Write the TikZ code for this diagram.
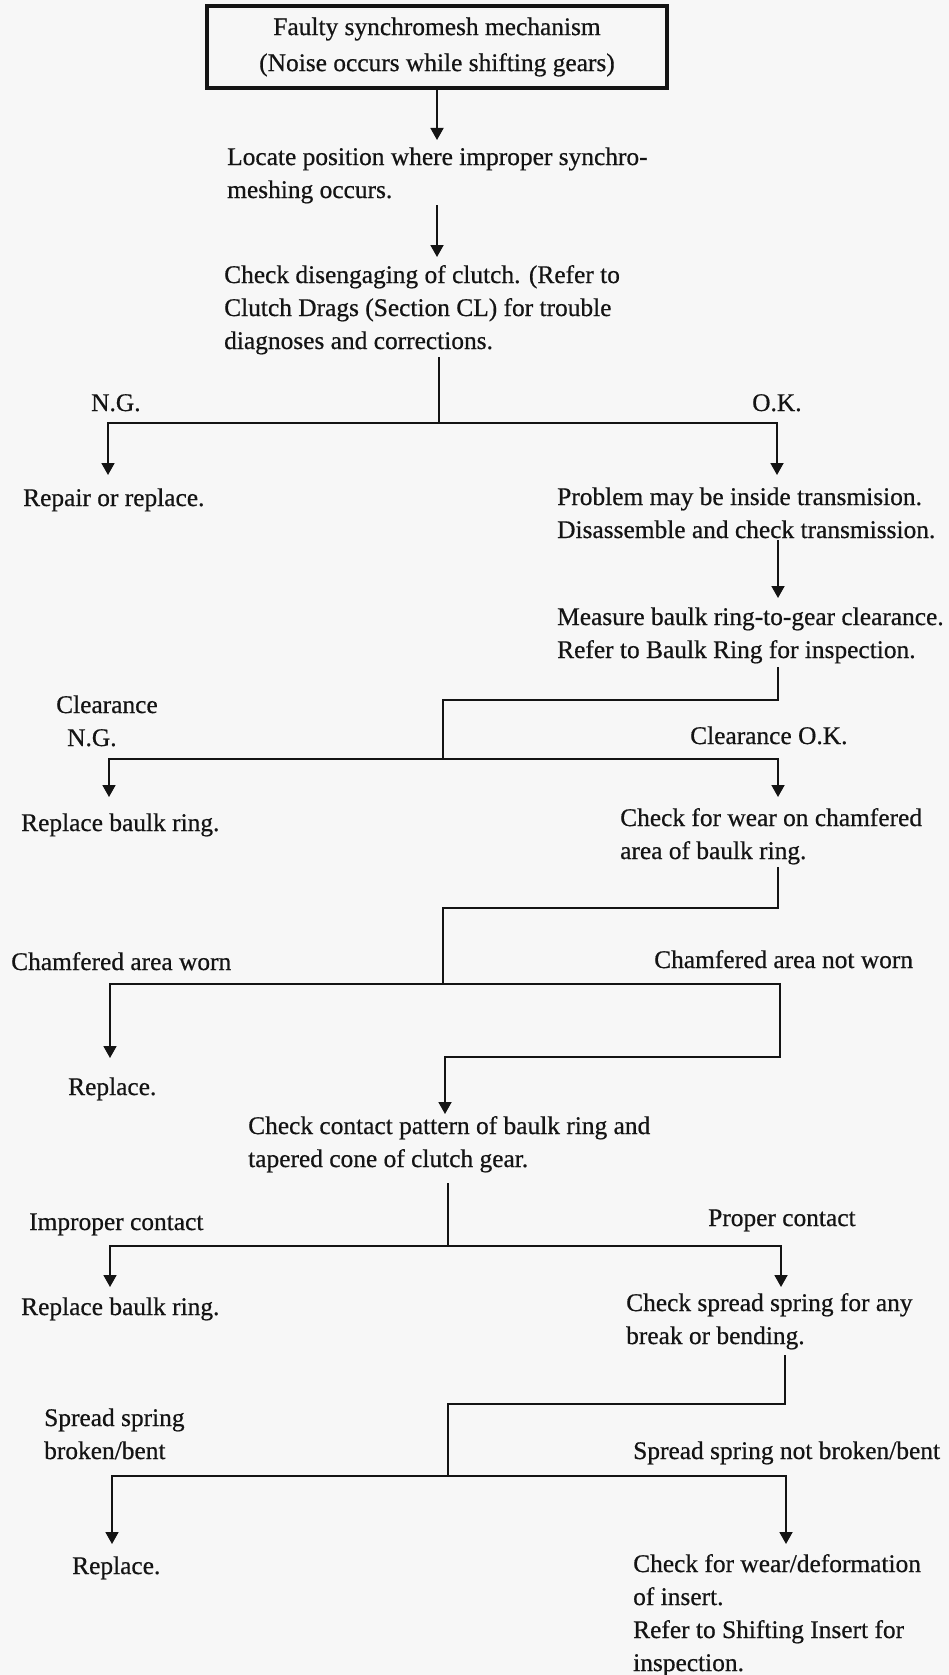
\documentclass[tikz,border=0pt]{standalone}
\usepackage{fontspec}
\setmainfont[FakeBold=0.6]{Liberation Serif}
\usetikzlibrary{arrows.meta}
\tikzset{
  txt/.style={anchor=base west, inner sep=0pt, font=\fontsize{25.4}{33}\selectfont, text=black!92},
  conn/.style={line width=1.8pt, draw=black!92},
  arr/.style={conn, -{Triangle[length=12pt,width=13pt]}},
  startbox/.style={draw=black!92, line width=3.5pt, minimum width=460pt, minimum height=82pt,
    align=center, inner sep=0pt, font=\fontsize{25.4}{33}\selectfont, text=black!92},
}
\newcommand{\lines}[1]{\begin{tabular}[t]{@{}l@{}}#1\end{tabular}}
\begin{document}
\begin{tikzpicture}[x=1pt,y=-1pt]
\fill[black!3] (0,0) rectangle (949,1675);
\useasboundingbox (0,0) rectangle (949,1675);

% nodes
\node[startbox] (start) at (437,47) {Faulty synchromesh mechanism\\[3pt](Noise occurs while shifting gears)};
\node[txt] (locate) at (227,165) {\lines{Locate position where improper synchro-\\meshing occurs.}};
\node[txt] (clutch) at (224,283) {\lines{Check disengaging of clutch. (Refer to\\Clutch Drags (Section CL) for trouble\\diagnoses and corrections.}};
\node[txt] (ng1) at (91,411) {N.G.};
\node[txt] (ok1) at (752,411) {O.K.};
\node[txt] (repair) at (23,506) {Repair or replace.};
\node[txt] (problem) at (557,505) {\lines{Problem may be inside transmision.\\Disassemble and check transmission.}};
\node[txt] (measure) at (557,625) {\lines{Measure baulk ring-to-gear clearance.\\Refer to Baulk Ring for inspection.}};
\node[txt] (clng) at (56,713) {\lines{Clearance\\\hspace{11pt}N.G.}};
\node[txt] (clok) at (690,744) {Clearance O.K.};
\node[txt] (rbr1) at (21,831) {Replace baulk ring.};
\node[txt] (chwear) at (620,826) {\lines{Check for wear on chamfered\\area of baulk ring.}};
\node[txt] (worn) at (11,970) {Chamfered area worn};
\node[txt] (notworn) at (654,968) {Chamfered area not worn};
\node[txt] (rep1) at (68,1095) {Replace.};
\node[txt] (contact) at (248,1134) {\lines{Check contact pattern of baulk ring and\\tapered cone of clutch gear.}};
\node[txt] (improper) at (29,1230) {Improper contact};
\node[txt] (proper) at (708,1226) {Proper contact};
\node[txt] (rbr2) at (21,1315) {Replace baulk ring.};
\node[txt] (spring) at (626,1311) {\lines{Check spread spring for any\\break or bending.}};
\node[txt] (broken) at (44,1426) {\lines{Spread spring\\broken/bent}};
\node[txt] (notbroken) at (633,1459) {Spread spring not broken/bent};
\node[txt] (rep2) at (72,1574) {Replace.};
\node[txt] (insert) at (633,1572) {\lines{Check for wear/deformation\\of insert.\\Refer to Shifting Insert for\\inspection.}};

% coordinates
\coordinate (t1) at (437,140);
\coordinate (s2) at (437,205);
\coordinate (t2) at (437,257);
\coordinate (c1) at (439,357);
\coordinate (h1) at (439,423);
\coordinate (t1l) at (108,475);
\coordinate (t1r) at (777,475);
\coordinate (s3) at (778,540);
\coordinate (t3) at (778,598);
\coordinate (m1) at (778,667);
\coordinate (k2) at (443,700);
\coordinate (h2) at (443,759);
\coordinate (t2l) at (109,797);
\coordinate (t2r) at (778,797);
\coordinate (m2) at (778,867);
\coordinate (k3) at (443,908);
\coordinate (h3) at (443,984);
\coordinate (t3l) at (110,1058);
\coordinate (r3) at (780,1057);
\coordinate (t3c) at (445,1114);
\coordinate (c4) at (448,1183);
\coordinate (h4) at (448,1246);
\coordinate (t4l) at (110,1287);
\coordinate (t4r) at (781,1287);
\coordinate (m5) at (785,1355);
\coordinate (k5) at (448,1404);
\coordinate (h5) at (448,1476);
\coordinate (t5l) at (112,1544);
\coordinate (t5r) at (786,1544);

% connectors
\draw[arr] (start.south) -- (t1);
\draw[arr] (s2) -- (t2);
\draw[conn] (c1) -- (h1);
\draw[arr] (h1) -| (t1l);
\draw[arr] (h1) -| (t1r);
\draw[arr] (s3) -- (t3);
\draw[conn] (m1) |- (k2) -- (h2);
\draw[arr] (h2) -| (t2l);
\draw[arr] (h2) -| (t2r);
\draw[conn] (m2) |- (k3) -- (h3);
\draw[arr] (h3) -| (t3l);
\draw[arr] (h3) -| (r3) -| (t3c);
\draw[conn] (c4) -- (h4);
\draw[arr] (h4) -| (t4l);
\draw[arr] (h4) -| (t4r);
\draw[conn] (m5) |- (k5) -- (h5);
\draw[arr] (h5) -| (t5l);
\draw[arr] (h5) -| (t5r);
\end{tikzpicture}
\end{document}
